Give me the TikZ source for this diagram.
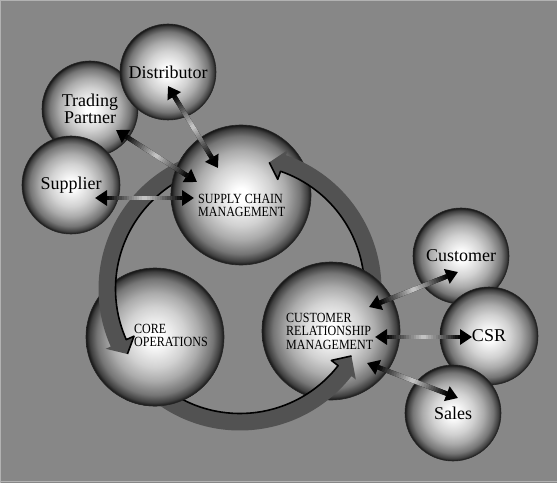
\documentclass[tikz,border=0pt]{standalone}
\usepackage{fontspec}
\setmainfont{Liberation Serif}
\newfontfamily\capfont[FakeStretch=0.86]{Liberation Serif}
\usetikzlibrary{arrows.meta,calc}

\definecolor{bgc}{gray}{0.53}
\definecolor{bandc}{gray}{0.32}
\definecolor{framec}{gray}{0.70}

% the circle edge sits at 25bp in a pgf radial shading
\pgfdeclareradialshading{sphere}{\pgfpoint{0bp}{0bp}}{%
  color(0bp)=(white); color(2.5bp)=(white); color(11bp)=(black!18);
  color(16bp)=(black!33); color(21bp)=(black!54); color(23.7bp)=(black!75);
  color(25bp)=(black!92); color(50bp)=(black!92)}

\tikzset{
  ball/.style={circle, inner sep=0pt, shade, shading=sphere, draw=black!85,
    line width=0.6bp, align=center, text=black,
    font=\fontsize{18bp}{17.5bp}\selectfont},
  caps/.style={anchor=north west, inner sep=0pt, align=left, text=black,
    font=\capfont\fontsize{14bp}{13.5bp}\selectfont},
  conn/.style={line width=4.5bp, black,
    {Triangle[width=15bp,length=12bp]}-{Triangle[width=15bp,length=12bp]}},
  patch/.style={shading=sphere, draw=black!85, line width=0.6bp},
}

\newcommand\gradconn[2]{%
  \draw[conn] (#1) -- (#2);
  \foreach \k in {0,...,29}{%
    \pgfmathsetmacro\ta{0.12+0.76*\k/30}%
    \pgfmathsetmacro\tb{0.12+0.76*(\k+1.3)/30}%
    \pgfmathtruncatemacro\pc{100-78*(1-abs(2*(\k+0.5)/30-1))}%
    \draw[line width=4.5bp, black!\pc] ($(#1)!\ta!(#2)$) -- ($(#1)!\tb!(#2)$);
  }%
}

% #1 start angle, #2 arrow base angle, #3 tip angle
\newcommand\bandarc[3]{%
  \fill[bandc] ($(cyc)+(#1:141.5)$) arc[start angle=#1, end angle=#2, radius=141.5]
    -- ($(cyc)+(#2:147)$) -- ($(cyc)+(#3:130)$) -- ($(cyc)+(#2:116)$)
    -- ($(cyc)+(#2:124.5)$) arc[start angle=#2, end angle=#1, radius=124.5] -- cycle;
  \draw[black, line width=1.6bp, line join=round]
    ($(cyc)+(#1:124.5)$) arc[start angle=#1, end angle=#2, radius=124.5]
    -- ($(cyc)+(#2:116)$) -- ($(cyc)+(#3:130)$);
}

\begin{document}
\begin{tikzpicture}[x=1bp, y=-1bp]
  % background and frame
  \fill[bgc] (0,0) rectangle (557,483);
  \useasboundingbox (0,0) rectangle (557,483);
  \draw[framec, line width=1bp] (0.5,0.5) -- (557,0.5);
  \draw[framec, line width=1bp] (0.5,0) -- (0.5,483);
  \draw[framec, line width=1.2bp] (0,481.5) -- (557,481.5);

  % small spheres (left group)
  \node[ball, minimum size=96bp] (trade) at (90,109) {Trading\\Partner};
  \node[ball, minimum size=96bp] (dist) at (168,72) {Distributor};
  \node[ball, minimum size=98bp] (supp) at (71,185) {Supplier};

  % small spheres (right group)
  \node[ball, minimum size=96bp] (cust) at (461,256) {Customer};
  \node[ball, minimum size=98bp] (csr) at (489,336) {CSR};
  \node[ball, minimum size=96bp] (sales) at (453,413) {Sales};

  % main spheres
  \node[ball, minimum size=140bp] (scm) at (241,195) {};
  \node[ball, minimum size=138bp] (core) at (155,337) {};
  \node[ball, minimum size=138bp] (crm) at (331,331) {};

  % cycle arrows
  \coordinate (cyc) at (240,289);
  \bandarc{248}{156}{150}
  \bandarc{127}{38}{31}
  \bandarc{2}{-71}{-77}

  % re-cover the starts of the cycle arrows
  \begin{scope}
    \clip (160,140) rectangle (216,205);
    \shade[patch] (scm.center) circle[radius=70];
  \end{scope}
  \begin{scope}
    \clip (125,366) rectangle (232,412);
    \shade[patch] (core.center) circle[radius=69];
  \end{scope}
  \begin{scope}
    \clip (338,250) rectangle (410,302);
    \shade[patch] (crm.center) circle[radius=69];
  \end{scope}

  % connector end points
  \coordinate (d1) at (168,86);   \coordinate (d2) at (218,168);
  \coordinate (t1) at (116,130);  \coordinate (t2) at (197,182);
  \coordinate (s1) at (95,198);   \coordinate (s2) at (194,198);
  \coordinate (c1) at (458,272);  \coordinate (c2) at (369,307);
  \coordinate (r1) at (472,337);  \coordinate (r2) at (375,337);
  \coordinate (a1) at (458,398);  \coordinate (a2) at (367,363);

  \gradconn{d1}{d2}
  \gradconn{t1}{t2}
  \gradconn{s1}{s2}
  \gradconn{c1}{c2}
  \gradconn{r1}{r2}
  \gradconn{a1}{a2}

  % main sphere captions
  \node[caps] (scmtext) at (198,194) {SUPPLY CHAIN\\MANAGEMENT};
  \node[caps] (coretext) at (134,324) {CORE\\OPERATIONS};
  \node[caps] (crmtext) at (286,313) {CUSTOMER\\RELATIONSHIP\\MANAGEMENT};
\end{tikzpicture}
\end{document}
